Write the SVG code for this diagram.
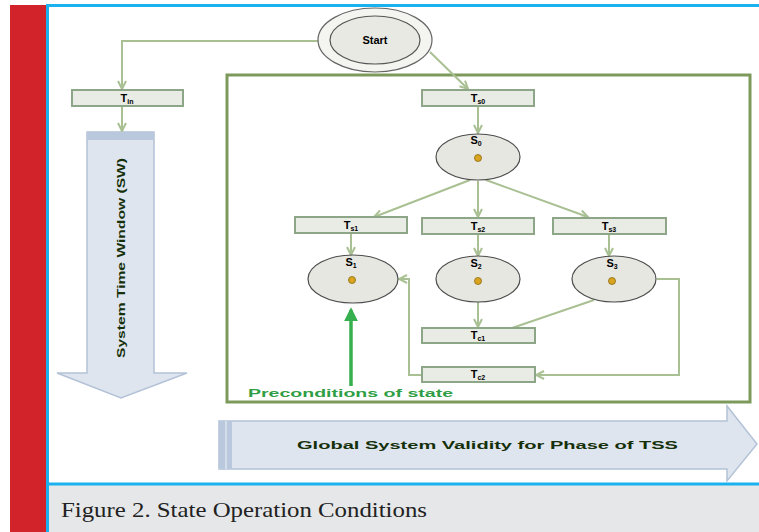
<svg xmlns="http://www.w3.org/2000/svg" width="759" height="532" viewBox="0 0 759 532">
<defs>
<style>
.box{fill:#e9ece5;stroke:#8ea688;stroke-width:2}
.st{fill:#e7e7e1;stroke:#4d4d4d;stroke-width:1.2}
.lbl{font-family:"Liberation Sans",Arial,sans-serif;font-weight:bold;font-size:11px;fill:#000;text-anchor:middle}
.con{fill:none;stroke:#a9c093;stroke-width:2}
.dot{fill:#d9a520;stroke:#8a6a10;stroke-width:0.8}
.big{fill:#dee5ef;stroke:#b3c2d6;stroke-width:1.5}
.atx{font-family:"Liberation Sans",Arial,sans-serif;font-weight:bold;font-size:11px;fill:#16300a}
</style>
<marker id="ah" viewBox="0 0 10 10" refX="9" refY="5" markerWidth="5" markerHeight="5" orient="auto">
<path d="M1,1 L9,5 L1,9" fill="none" stroke="#a9c093" stroke-width="2"/>
</marker>
<marker id="gh" viewBox="0 0 10 10" refX="8" refY="5" markerWidth="4" markerHeight="4" orient="auto">
<path d="M0,0 L10,5 L0,10 z" fill="#36b04f"/>
</marker>
</defs>
<rect x="0" y="0" width="759" height="532" fill="#ffffff"/>
<rect x="10" y="5" width="36" height="527" fill="#d2232a"/>
<rect x="49" y="485" width="710" height="47" fill="#e6e7e9"/>
<line x1="47.5" y1="4" x2="47.5" y2="532" stroke="#1ab2ee" stroke-width="3"/>
<line x1="46" y1="5.5" x2="759" y2="5.5" stroke="#1ab2ee" stroke-width="3"/>
<line x1="46" y1="484" x2="759" y2="484" stroke="#1ab2ee" stroke-width="3"/>
<text x="61" y="517" font-family="Liberation Serif,serif" font-size="21" fill="#222" textLength="366" lengthAdjust="spacingAndGlyphs">Figure 2. State Operation Conditions</text>

<rect x="227" y="75" width="523" height="327" fill="none" stroke="#7d9a5c" stroke-width="3"/>

<g id="arrow-left">
<path class="big" d="M87,132 H154 V373 H187 L121,398 L57,373 H87 Z"/>
<rect x="87" y="132" width="67" height="8" fill="#b9c8dc"/>
<text class="atx" transform="translate(125,258) rotate(-90)" text-anchor="middle" textLength="200" lengthAdjust="spacingAndGlyphs">System Time Window (SW)</text>
</g>
<g id="arrow-bottom">
<path class="big" d="M219,421 H727 V406 L757,444 L727,481 V469 H219 Z"/>
<rect x="219" y="421" width="13" height="48" fill="#b9c8dc"/>
<line x1="226" y1="421" x2="226" y2="469" stroke="#dee5ef" stroke-width="1.5"/>
<text class="atx" x="297" y="449" textLength="381" lengthAdjust="spacingAndGlyphs">Global System Validity for Phase of TSS</text>
</g>

<g id="connectors">
<polyline class="con" points="318,41 122,41 122,89" marker-end="url(#ah)"/>
<line class="con" x1="430" y1="52" x2="468" y2="89" marker-end="url(#ah)"/>
<line class="con" x1="122" y1="106" x2="122" y2="131" marker-end="url(#ah)"/>
<line class="con" x1="478" y1="106" x2="478" y2="133" marker-end="url(#ah)"/>
<line class="con" x1="470" y1="180" x2="374" y2="217" marker-end="url(#ah)"/>
<line class="con" x1="478" y1="181" x2="478" y2="217" marker-end="url(#ah)"/>
<line class="con" x1="486" y1="180" x2="588" y2="217" marker-end="url(#ah)"/>
<line class="con" x1="351" y1="233" x2="351" y2="255" marker-end="url(#ah)"/>
<line class="con" x1="478" y1="234" x2="478" y2="256" marker-end="url(#ah)"/>
<line class="con" x1="609" y1="234" x2="609" y2="256" marker-end="url(#ah)"/>
<line class="con" x1="478" y1="302" x2="478" y2="327" marker-end="url(#ah)"/>
<line class="con" x1="594" y1="300" x2="512" y2="328"/>
<polyline class="con" points="657,279 679,279 679,375 536,375" marker-end="url(#ah)"/>
<polyline class="con" points="421,375 409,375 409,279 399,279" marker-end="url(#ah)"/>
<line x1="351" y1="386" x2="351" y2="310" stroke="#36b04f" stroke-width="3.5" marker-end="url(#gh)"/>
</g>
<text x="248" y="397" font-family="Liberation Sans,Arial,sans-serif" font-weight="bold" font-size="10" fill="#2f9e45" textLength="205" lengthAdjust="spacingAndGlyphs">Preconditions of state</text>

<g id="start">
<ellipse cx="375" cy="40" rx="57" ry="32" fill="#f4f4f0" stroke="#666" stroke-width="1.2"/>
<ellipse cx="375" cy="40" rx="45" ry="24" fill="#e9e9e4" stroke="#555" stroke-width="1.2"/>
<text class="lbl" x="375" y="44" font-size="11">Start</text>
</g>
<g id="box-in"><rect class="box" x="72" y="90" width="111" height="16"/><text class="lbl" x="127" y="102">T<tspan font-size="7" dy="2">in</tspan></text></g>
<g id="box-s0"><rect class="box" x="422" y="90" width="112" height="16"/><text class="lbl" x="478" y="102">T<tspan font-size="7" dy="2">s0</tspan></text></g>
<g id="state-0"><ellipse class="st" cx="478" cy="157" rx="42" ry="23"/><text class="lbl" x="476" y="144">S<tspan font-size="7" dy="2">0</tspan></text><circle class="dot" cx="478" cy="158" r="3.5"/></g>
<g id="box-s1"><rect class="box" x="295" y="217" width="112" height="16"/><text class="lbl" x="351" y="229">T<tspan font-size="7" dy="2">s1</tspan></text></g>
<g id="box-s2"><rect class="box" x="422" y="218" width="112" height="16"/><text class="lbl" x="478" y="230">T<tspan font-size="7" dy="2">s2</tspan></text></g>
<g id="box-s3"><rect class="box" x="553" y="218" width="113" height="16"/><text class="lbl" x="609" y="230">T<tspan font-size="7" dy="2">s3</tspan></text></g>
<g id="state-1"><ellipse class="st" cx="353" cy="279" rx="45" ry="24"/><text class="lbl" x="351" y="266">S<tspan font-size="7" dy="2">1</tspan></text><circle class="dot" cx="352" cy="280" r="3.5"/></g>
<g id="state-2"><ellipse class="st" cx="478" cy="279" rx="42" ry="23"/><text class="lbl" x="476" y="267">S<tspan font-size="7" dy="2">2</tspan></text><circle class="dot" cx="478" cy="281" r="3.5"/></g>
<g id="state-3"><ellipse class="st" cx="614" cy="279" rx="42" ry="23"/><text class="lbl" x="612" y="267">S<tspan font-size="7" dy="2">3</tspan></text><circle class="dot" cx="612" cy="281" r="3.5"/></g>
<g id="box-c1"><rect class="box" x="422" y="328" width="113" height="15"/><text class="lbl" x="478" y="339">T<tspan font-size="7" dy="2">c1</tspan></text></g>
<g id="box-c2"><rect class="box" x="422" y="367" width="113" height="15"/><text class="lbl" x="478" y="378">T<tspan font-size="7" dy="2">c2</tspan></text></g>
</svg>
